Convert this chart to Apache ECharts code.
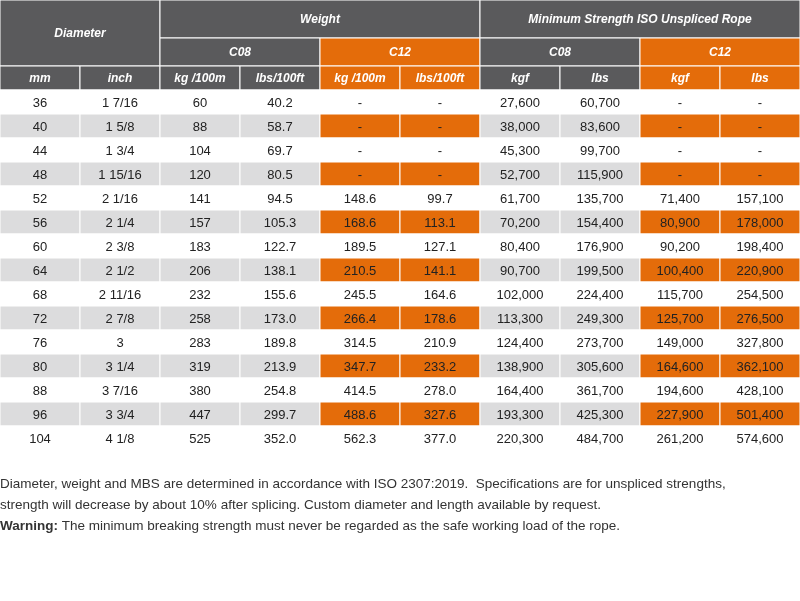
<!DOCTYPE html>
<html><head><meta charset="utf-8">
<script src="https://cdn.jsdelivr.net/npm/echarts@6/dist/echarts.min.js"></script>
<style>html,body{margin:0;padding:0;background:#fff}#c{width:800px;height:601px}</style>
</head><body><div id="c"></div>
<script>
var mm = ['36','40','44','48','52','56','60','64','68','72','76','80','88','96','104'];
var inch = ['1 7/16','1 5/8','1 3/4','1 15/16','2 1/16','2 1/4','2 3/8','2 1/2','2 11/16','2 7/8','3','3 1/4','3 7/16','3 3/4','4 1/8'];
var c08Kg = ['60','88','104','120','141','157','183','206','232','258','283','319','380','447','525'];
var c08Lbs = ['40.2','58.7','69.7','80.5','94.5','105.3','122.7','138.1','155.6','173.0','189.8','213.9','254.8','299.7','352.0'];
var c12Kg = ['-','-','-','-','148.6','168.6','189.5','210.5','245.5','266.4','314.5','347.7','414.5','488.6','562.3'];
var c12Lbs = ['-','-','-','-','99.7','113.1','127.1','141.1','164.6','178.6','210.9','233.2','278.0','327.6','377.0'];
var c08Kgf = ['27,600','38,000','45,300','52,700','61,700','70,200','80,400','90,700','102,000','113,300','124,400','138,900','164,400','193,300','220,300'];
var c08MbsLbs = ['60,700','83,600','99,700','115,900','135,700','154,400','176,900','199,500','224,400','249,300','273,700','305,600','361,700','425,300','484,700'];
var c12Kgf = ['-','-','-','-','71,400','80,900','90,200','100,400','115,700','125,700','149,000','164,600','194,600','227,900','261,200'];
var c12MbsLbs = ['-','-','-','-','157,100','178,000','198,400','220,900','254,500','276,500','327,800','362,100','428,100','501,400','574,600'];
var unitLabels = ['mm','inch','kg /100m','lbs/100ft','kg /100m','lbs/100ft','kgf','lbs','kgf','lbs'];
var columns = [mm, inch, c08Kg, c08Lbs, c12Kg, c12Lbs, c08Kgf, c08MbsLbs, c12Kgf, c12MbsLbs];
var c12Cols = [4, 5, 8, 9];

var DARK = '#5a5a5c', ORANGE = '#e46c0a', LIGHT = '#dcdcdd';
// row edges on the y scale: three header rows then data rows
var headerEdges = [0, 38, 66, 90];
var rowH = 24;

var cells = [];
function cell(c0, c1, y0, y1, fill, text, color, head) {
  cells.push([c0, c1, y0, y1, fill, text, color, head ? 1 : 0]);
}
cell(0, 2, 0, 66, DARK, 'Diameter', '#fff', true);
cell(2, 6, 0, 38, DARK, 'Weight', '#fff', true);
cell(6, 10, 0, 38, DARK, 'Minimum Strength ISO Unspliced Rope', '#fff', true);
[[2,'C08',DARK],[4,'C12',ORANGE],[6,'C08',DARK],[8,'C12',ORANGE]].forEach(function (g) {
  cell(g[0], g[0] + 2, 38, 66, g[2], g[1], '#fff', true);
});
unitLabels.forEach(function (u, j) {
  cell(j, j + 1, 66, 90, c12Cols.indexOf(j) >= 0 ? ORANGE : DARK, u, '#fff', true);
});
mm.forEach(function (m, i) {
  var y0 = headerEdges[3] + i * rowH;
  columns.forEach(function (col, j) {
    var fill = '#fff';
    if (i % 2 === 1) fill = c12Cols.indexOf(j) >= 0 ? ORANGE : LIGHT;
    cell(j, j + 1, y0, y0 + rowH, fill, col[i], '#222', false);
  });
});

var chart = echarts.init(document.getElementById('c'));
chart.setOption({
  animation: false,
  grid: { left: 0, right: 0, top: 0, height: 450 },
  xAxis: { type: 'value', min: 0, max: 10, show: false },
  yAxis: { type: 'value', min: 0, max: 450, inverse: true, show: false },
  series: [{
    type: 'custom',
    data: cells,
    renderItem: function (params, api) {
      var p0 = api.coord([api.value(0), api.value(2)]);
      var p1 = api.coord([api.value(1), api.value(3)]);
      var d = cells[params.dataIndex];
      var head = d[7] === 1;
      return {
        type: 'group',
        children: [{
          type: 'rect',
          shape: { x: p0[0], y: p0[1], width: p1[0] - p0[0], height: p1[1] - p0[1] },
          style: { fill: d[4], stroke: '#fff', lineWidth: 1 }
        }, {
          type: 'text',
          x: (p0[0] + p1[0]) / 2, y: (p0[1] + p1[1]) / 2 + 1,
          style: {
            text: d[5], fill: d[6], align: 'center', verticalAlign: 'middle',
            font: (head ? 'italic bold 12px' : '13px') + ' "Liberation Sans", Arial, sans-serif'
          }
        }]
      };
    }
  }],
  graphic: [{
    type: 'text', left: 0, top: 474,
    style: {
      text: 'Diameter, weight and MBS are determined in accordance with ISO 2307:2019.  Specifications are for unspliced strengths,\nstrength will decrease by about 10% after splicing. Custom diameter and length available by request.\n{b|Warning:} The minimum breaking strength must never be regarded as the safe working load of the rope.',
      font: '13.5px "Liberation Sans", Arial, sans-serif', fill: '#333', lineHeight: 21,
      rich: { b: { fontWeight: 'bold', fontSize: 13.5, fill: '#333', lineHeight: 21 } }
    }
  }]
});
</script></body></html>
